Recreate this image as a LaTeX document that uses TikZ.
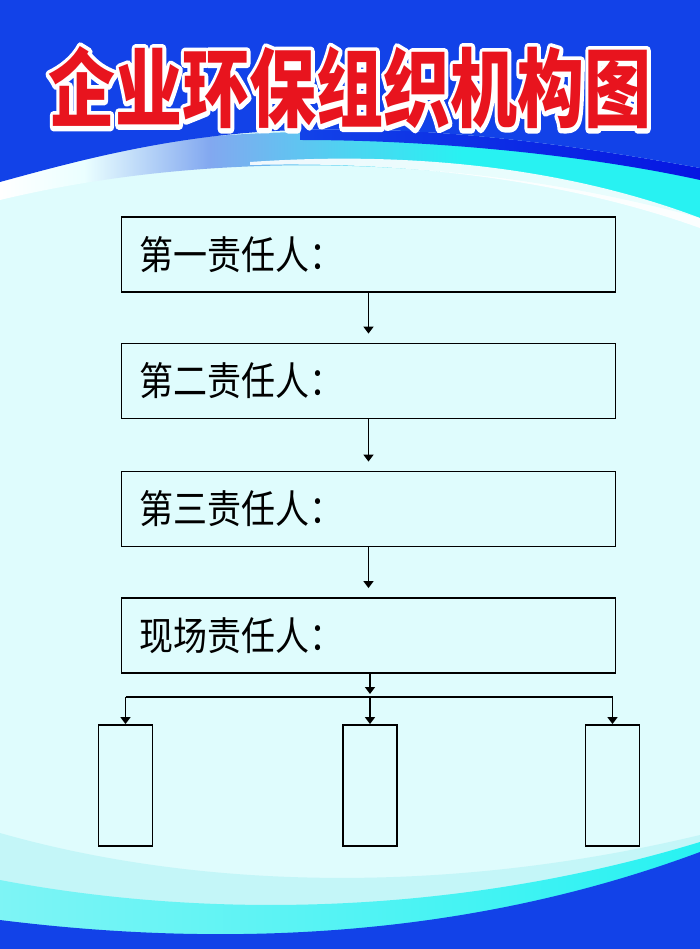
\documentclass[tikz,border=0pt]{standalone}
\usepackage{graphicx}
\usepackage{fontspec}
\usetikzlibrary{arrows.meta}
\newfontfamily\cjk{Noto Sans CJK SC}
\definecolor{bgc}{RGB}{223,252,253}
\definecolor{blueA}{RGB}{18,66,232}
\definecolor{blueD}{RGB}{6,22,226}
\definecolor{cyanA}{RGB}{40,242,242}
\definecolor{titlered}{RGB}{232,20,30}
\definecolor{paleA}{RGB}{196,246,248}
\definecolor{lblue}{RGB}{130,168,240}
\pgfdeclarehorizontalshading{swoosh}{100bp}{color(0bp)=(white); color(25bp)=(white); color(31bp)=(white!92!cyan); color(40bp)=(lblue); color(50bp)=(cyanA!60!lblue); color(58bp)=(cyanA); color(100bp)=(cyanA)}
\newcommand\tallbox[2]{\scalebox{1}[#1]{#2}}
\newcommand\strokedtext[1]{\special{pdf:literal direct 2 Tr 7 w 1 j}#1\special{pdf:literal direct 0 Tr 0.4 w}}
\tikzset{
  box/.style={draw=black, line width=1.8pt, minimum width=494pt, minimum height=75pt, inner sep=0pt},
  smallbox/.style={draw=black, line width=1.8pt, minimum width=54pt, minimum height=121pt, inner sep=0pt},
  lab/.style={anchor=west, inner sep=0pt, font=\cjk\fontsize{34}{34}\selectfont},
  titlefont/.style={inner sep=0pt, font=\cjk\bfseries\fontsize{67}{67}\selectfont},
  arr/.style={line width=1.6pt, -{Triangle[length=7pt,width=10pt]}},
  conn/.style={line width=1.6pt}
}
\begin{document}
\begin{tikzpicture}[x=1pt,y=-1pt]
\useasboundingbox (0,0) rectangle (700,949);
% background
\fill[bgc] (0,0) rectangle (700,949);
% top swoosh band
\shade[shading=swoosh] (0,175) .. controls (200,115) and (450,120) .. (700,175) -- (700,218) .. controls (450,150) and (200,152) .. (0,200) -- cycle;
% white strip under band on the right
\fill[white, opacity=0.9] (250,162) .. controls (450,148) and (600,180) .. (700,218) -- (700,228) .. controls (600,192) and (450,160) .. (250,165) -- cycle;
% dark blue strip
\shade[left color=blueA, right color=blueD] (300,130) .. controls (450,125) and (600,150) .. (700,168) -- (700,180) .. controls (600,158) and (450,140) .. (300,140) -- cycle;
% top blue
\fill[blueA] (0,0) -- (700,0) -- (700,168) .. controls (600,150) and (450,125) .. (300,130) .. controls (180,133) and (80,160) .. (0,182) -- cycle;
% bottom layers
\fill[paleA] (0,833) .. controls (200,890) and (450,895) .. (700,835) -- (700,949) -- (0,949) -- cycle;
\shade[left color=cyanA!45!paleA, right color=cyanA] (0,880) .. controls (200,918) and (450,918) .. (700,842) -- (700,949) -- (0,949) -- cycle;
\fill[blueA] (0,920) .. controls (200,945) and (450,945) .. (700,852) -- (700,949) -- (0,949) -- cycle;
% title: white outline copy, then red fill
\node[titlefont, text=white] (titleoutline) at (350,88) {\tallbox{1.28}{\strokedtext{企业环保组织机构图}}};
\node[titlefont, text=titlered] (title) at (350,88) {\tallbox{1.28}{企业环保组织机构图}};
% boxes
\node[box] (b1) at (368.5,254.5) {};
\node[box] (b2) at (368.5,381) {};
\node[box] (b3) at (368.5,509) {};
\node[box] (b4) at (368.5,635.5) {};
\node[lab] (l1) at ([xshift=19pt]b1.west) {\tallbox{1.15}{第一责任人：}};
\node[lab] (l2) at ([xshift=19pt]b2.west) {\tallbox{1.15}{第二责任人：}};
\node[lab] (l3) at ([xshift=19pt]b3.west) {\tallbox{1.15}{第三责任人：}};
\node[lab] (l4) at ([xshift=19pt]b4.west) {\tallbox{1.15}{现场责任人：}};
\draw[arr, shorten >=9pt] (b1.south) -- (b2.north);
\draw[arr, shorten >=9pt] (b2.south) -- (b3.north);
\draw[arr, shorten >=9pt] (b3.south) -- (b4.north);
% branches
\node[smallbox] (s1) at (125.5,785.5) {};
\node[smallbox] (s2) at (370,785.5) {};
\node[smallbox] (s3) at (612.5,785.5) {};
\coordinate (hub) at (370,697);
\coordinate (hl) at (125.5,697);
\coordinate (hr) at (612.5,697);
\draw[arr, shorten >=3pt] (b4.south -| hub) -- (hub);
\draw[conn] (hl) -- (hr);
\draw[arr] (hl) -- (s1.north);
\draw[arr] (hub) -- (s2.north);
\draw[arr] (hr) -- (s3.north);
\end{tikzpicture}
\end{document}
